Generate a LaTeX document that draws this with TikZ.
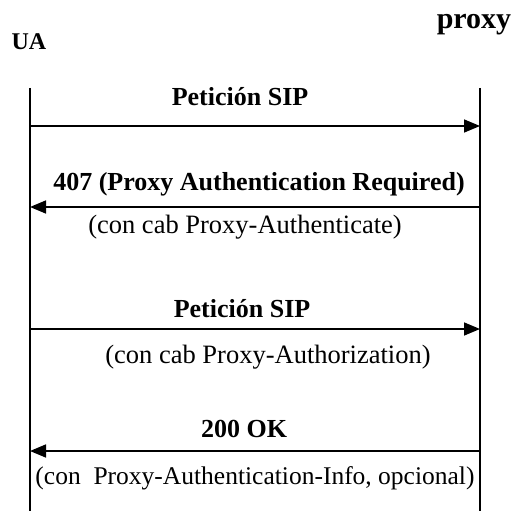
\documentclass[tikz,border=0pt]{standalone}
\usepackage{fontspec}
\setmainfont{Liberation Serif}
\usetikzlibrary{arrows.meta}

\begin{document}
\begin{tikzpicture}[x=1pt,y=-1pt]
\tikzstyle{every node}=[font=\fontsize{26.5}{28}\selectfont,inner sep=0pt]
\tikzstyle{msg}=[line width=1.6pt,-{Triangle[length=16pt,width=13pt]}]
\tikzstyle{bold}=[font=\fontsize{26}{28}\selectfont\bfseries]
\useasboundingbox (0,0) rectangle (517,511);
% agentes
\node[font=\fontsize{24}{26}\selectfont\bfseries] (ua) at (29,42) {UA};
\node[font=\fontsize{30}{32}\selectfont\bfseries] (proxy) at (474,25) {proxy};
\coordinate (uatop) at (30,88);
\coordinate (uabot) at (30,511);
\coordinate (pxtop) at (480,88);
\coordinate (pxbot) at (480,511);
\draw[line width=1.3pt](uatop)--(uabot);
\draw[line width=1.3pt](pxtop)--(pxbot);
% mensajes
\coordinate (a1) at (30,126); \coordinate (b1) at (480,126);
\coordinate (a2) at (30,207); \coordinate (b2) at (480,207);
\coordinate (a3) at (30,329); \coordinate (b3) at (480,329);
\coordinate (a4) at (30,451); \coordinate (b4) at (480,451);
\draw[msg](a1)--(b1);
\draw[msg](b2)--(a2);
\draw[msg](a3)--(b3);
\draw[msg](b4)--(a4);
\node[bold] (m1) at (240,97) {Petición SIP};
\node[bold] (m2) at (259,184) {407 (Proxy Authentication Required)};
\node (m2b) at (245,227) {(con cab Proxy-Authenticate)};
\node[bold] (m3) at (242,309) {Petición SIP};
\node (m3b) at (268,357) {(con cab Proxy-Authorization)};
\node[bold] (m4) at (244,429) {200 OK};
\node[font=\fontsize{25.5}{28}\selectfont] (m4b) at (255,478) {(con\ \ Proxy-Authentication-Info, opcional)};

\end{tikzpicture}
\end{document}
